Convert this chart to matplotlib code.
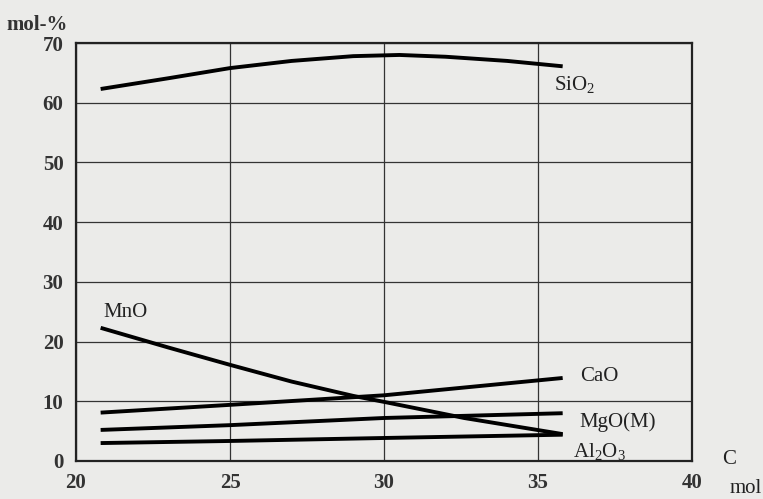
import matplotlib
matplotlib.use("Agg")
import matplotlib.pyplot as plt

plt.rcParams["font.family"] = ["Liberation Serif", "DejaVu Serif"]
plt.rcParams["mathtext.fontset"] = "custom"
plt.rcParams["mathtext.rm"] = "Liberation Serif"
plt.rcParams["mathtext.it"] = "Liberation Serif:italic"

# x values (mol C) where each curve was read
x_sio2 = [20.8, 23.0, 25.0, 27.0, 29.0, 30.5, 32.0, 34.0, 35.8]
sio2 = [62.3, 64.1, 65.8, 67.0, 67.8, 68.0, 67.7, 67.0, 66.1]

x_mno = [20.8, 23.0, 25.0, 27.0, 29.0, 30.0, 32.6, 35.8]
mno = [22.3, 19.0, 16.1, 13.3, 10.9, 9.9, 7.2, 4.5]

x_lin = [20.8, 25.0, 30.0, 35.8]
cao = [8.1, 9.4, 11.0, 13.9]
mgo = [5.2, 6.0, 7.2, 8.0]
al2o3 = [3.0, 3.35, 3.85, 4.4]

labels = ["SiO$\\mathrm{_2}$", "MnO", "CaO", "MgO(M)", "Al$\\mathrm{_2}$O$\\mathrm{_3}$"]
label_pos = [(36.2, 63.0), (21.6, 24.8), (37.0, 14.1), (37.6, 6.5), (37.0, 1.6)]

bg = "#ebebe9"
fig = plt.figure(figsize=(7.63, 4.99), dpi=100, facecolor=bg)
ax = fig.add_axes([0.0996, 0.0762, 0.8074, 0.8376], facecolor=bg)

for xs, ys in [(x_sio2, sio2), (x_mno, mno), (x_lin, cao), (x_lin, mgo), (x_lin, al2o3)]:
    ax.plot(xs, ys, color="black", lw=2.8, solid_capstyle="butt")

for txt, (tx, ty) in zip(labels, label_pos):
    ax.text(tx, ty, txt, fontsize=15, ha="center", va="center", color="#222222")

ax.set_xlim(20, 40)
ax.set_ylim(0, 70)
ax.set_xticks([20, 25, 30, 35, 40])
ax.set_yticks(range(0, 71, 10))
ax.grid(True, color="#333333", lw=0.9)
ax.set_axisbelow(True)
for s in ax.spines.values():
    s.set_linewidth(1.6)
    s.set_color("#222222")
ax.tick_params(length=0, labelsize=15, pad=9)
for t in ax.get_xticklabels() + ax.get_yticklabels():
    t.set_fontweight("bold")
    t.set_color("#333333")

fig.text(0.049, 0.95, "mol-%", fontsize=15, fontweight="bold", color="#333333", ha="center", va="center")
ax.text(41.2, 0.3, "C", fontsize=15, ha="center", va="center", clip_on=False, color="#222222")
fig.text(0.998, 0.022, "mol", fontsize=15, ha="right", va="center", color="#222222")

fig.savefig("out.png", dpi=100, facecolor=bg)
